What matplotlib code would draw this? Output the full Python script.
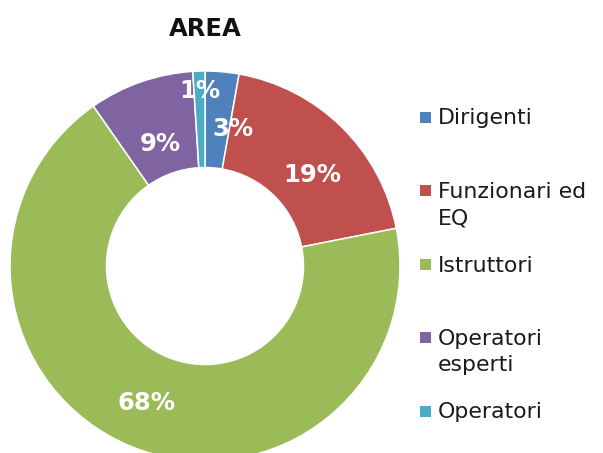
import matplotlib
matplotlib.use("Agg")
import matplotlib.pyplot as plt
from matplotlib.patches import Rectangle

# data
categories = ["Dirigenti", "Funzionari ed\nEQ", "Istruttori", "Operatori\nesperti", "Operatori"]
shares = [2.8, 19.1, 68.4, 8.7, 1.0]
colors = ["#4F81BD", "#C0504D", "#9BBB59", "#8064A2", "#4BACC6"]

W, H = 603, 453
CX, CY, R = 205, 266, 195  # pie centre / radius in pixels

fig = plt.figure(figsize=(W / 100, H / 100), dpi=100)
ax = fig.add_axes([0, 0, 1, 1])
ax.axis("off")

wedges, texts, autotexts = ax.pie(
    shares,
    colors=colors,
    startangle=90,
    counterclock=False,
    radius=1.0,
    autopct="%.0f%%",
    pctdistance=0.75,
    wedgeprops=dict(width=0.495, edgecolor="white", linewidth=1.1),
    textprops=dict(color="white", fontsize=17.5, fontweight="bold"),
)
ax.set_xlim(-CX / R, (W - CX) / R)
ax.set_ylim((CY - H) / R, CY / R)

# nudge the labels the way the source chart places them
nudges = [(0.078, -0.044), (0.024, -0.068), (-0.020, -0.007), (0.017, -0.082), (-0.002, 0.147)]
for t, (dx, dy) in zip(autotexts, nudges):
    x, y = t.get_position()
    t.set_position((x + dx, y + dy))

fig.text(CX / W, 1 - 29 / H, "AREA", ha="center", va="center",
         fontsize=17.5, fontweight="bold", color="#111111")

# legend drawn by hand: first lines evenly spaced
first_line = 117
step = 73.5
line_h = 26
for i, (lab, col) in enumerate(zip(categories, colors)):
    yc = first_line + step * i
    fig.patches.append(Rectangle((420 / W, 1 - (yc + 5.5) / H), 11 / W, 11 / H,
                                 transform=fig.transFigure, facecolor=col,
                                 edgecolor="none"))
    for k, line in enumerate(lab.split("\n")):
        yb = yc + k * line_h + 7.5
        fig.text(438 / W, 1 - yb / H, line, ha="left", va="baseline",
                 fontsize=15.8, color="#1a1a1a")

fig.savefig("out.png", dpi=100)
